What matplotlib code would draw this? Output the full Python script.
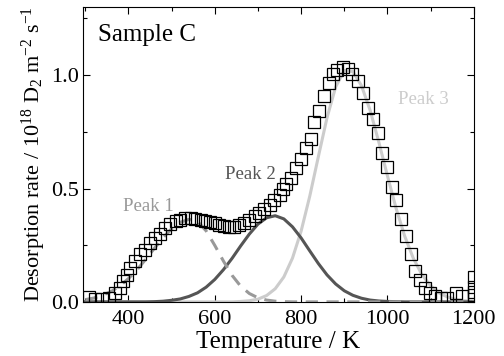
import matplotlib
matplotlib.use("Agg")
import matplotlib.pyplot as plt
from matplotlib.ticker import MultipleLocator

plt.rcParams['font.family'] = ['Liberation Serif', 'DejaVu Serif']
plt.rcParams['mathtext.fontset'] = 'custom'
plt.rcParams['mathtext.rm'] = 'Liberation Serif'
plt.rcParams['mathtext.it'] = 'Liberation Serif:italic'

# measured TDS data (open squares)
data_T = [309, 323, 338, 354, 369, 381, 388, 396, 404, 416,
          427, 439, 450, 462, 474, 485, 497, 509, 520, 532,
          544, 555, 567, 578, 590, 600, 610, 622, 633, 645,
          657, 668, 680, 692, 703, 715, 727, 738, 750, 757,
          765, 777, 788, 800, 811, 823, 831, 842, 853, 865,
          873, 884, 896, 908, 919, 931, 943, 954, 966, 977,
          987, 999, 1011, 1020, 1032, 1043, 1055, 1063, 1075, 1086,
          1098, 1110, 1125, 1137, 1158, 1172, 1200, 1200, 1200, 1200]
data_v = [0.022, 0.014, 0.012, 0.016, 0.038, 0.06, 0.09, 0.12, 0.15, 0.18,
          0.21, 0.23, 0.26, 0.28, 0.30, 0.326, 0.342, 0.356, 0.363, 0.37,
          0.37, 0.367, 0.36, 0.357, 0.352, 0.347, 0.341, 0.336, 0.33, 0.33,
          0.338, 0.35, 0.362, 0.378, 0.392, 0.41, 0.428, 0.45, 0.473, 0.50,
          0.518, 0.547, 0.59, 0.632, 0.68, 0.72, 0.795, 0.842, 0.908, 0.965,
          1.004, 1.022, 1.034, 1.027, 1.004, 0.975, 0.923, 0.857, 0.805, 0.745,
          0.658, 0.595, 0.505, 0.45, 0.367, 0.29, 0.21, 0.137, 0.095, 0.062,
          0.04, 0.025, 0.017, 0.017, 0.038, 0.028, 0.11, 0.065, 0.045, 0.03]

# fitted peak curves (read at 20 K steps)
fit_T = [300, 320, 340, 360, 380, 400, 420, 440, 460, 480,
         500, 520, 540, 560, 580, 600, 620, 640, 660, 680,
         700, 720, 740, 760, 780, 800, 820, 840, 860, 880,
         900, 920, 940, 960, 980, 1000, 1020, 1040, 1060, 1080,
         1100, 1120, 1140, 1160, 1180, 1200]
peak1 = [0.010, 0.017, 0.029, 0.046, 0.070, 0.103, 0.142, 0.188, 0.236, 0.283,
         0.323, 0.351, 0.364, 0.355, 0.313, 0.249, 0.180, 0.117, 0.069, 0.037,
         0.018, 0.008, 0.003, 0.001, 0.0, 0.0, 0.0, 0.0, 0.0, 0.0,
         0.0, 0.0, 0.0, 0.0, 0.0, 0.0, 0.0, 0.0, 0.0, 0.0,
         0.0, 0.0, 0.0, 0.0, 0.0, 0.0]
peak2 = [0.0, 0.0, 0.0, 0.0, 0.0, 0.0, 0.0, 0.0, 0.001, 0.003,
         0.007, 0.013, 0.024, 0.040, 0.065, 0.099, 0.142, 0.192, 0.247, 0.299,
         0.343, 0.371, 0.380, 0.366, 0.331, 0.282, 0.225, 0.169, 0.119, 0.079,
         0.049, 0.029, 0.016, 0.008, 0.004, 0.002, 0.001, 0.0, 0.0, 0.0,
         0.0, 0.0, 0.0, 0.0, 0.0, 0.0]
peak3 = [0.0, 0.0, 0.0, 0.0, 0.0, 0.0, 0.0, 0.0, 0.0, 0.0,
         0.0, 0.0, 0.0, 0.0, 0.0, 0.0, 0.0, 0.0, 0.002, 0.005,
         0.012, 0.028, 0.058, 0.110, 0.193, 0.312, 0.466, 0.641, 0.812, 0.948,
         1.020, 1.016, 0.953, 0.844, 0.705, 0.556, 0.413, 0.290, 0.192, 0.120,
         0.071, 0.039, 0.021, 0.010, 0.005, 0.002]

fig = plt.figure(figsize=(5.04, 3.56), dpi=100)
ax = fig.add_axes([0.165, 0.152, 0.775, 0.828])

ax.plot(fit_T, peak3, color='#cccccc', lw=2.2, solid_joinstyle='round', zorder=2)
ax.plot(fit_T, peak2, color='#555555', lw=2.2, solid_joinstyle='round', zorder=3)
ax.plot(fit_T, peak1, color='#999999', lw=2.2, dashes=(4, 2.8), zorder=3)
ax.plot(data_T, data_v, ls='none', marker='s', ms=8.3, mfc='none',
        mec='black', mew=0.9, zorder=4)

ax.text(446, 0.42, 'Peak 1', color='#999999', fontsize=13.5, ha='center', va='center')
ax.text(683, 0.562, 'Peak 2', color='#555555', fontsize=13.5, ha='center', va='center')
ax.text(1083, 0.894, 'Peak 3', color='#cccccc', fontsize=13.5, ha='center', va='center')
ax.text(330, 1.177, 'Sample C', color='black', fontsize=18, ha='left', va='center')

ax.set_xlim(295, 1200)
ax.set_ylim(0, 1.3)
ax.xaxis.set_major_locator(MultipleLocator(200))
ax.xaxis.set_minor_locator(MultipleLocator(100))
ax.yaxis.set_major_locator(MultipleLocator(0.5))
ax.yaxis.set_minor_locator(MultipleLocator(0.25))
ax.tick_params(which='both', direction='in', top=True, right=True,
               labelsize=16, width=0.8, colors='black')
ax.tick_params(which='major', length=5)
ax.tick_params(which='minor', length=3)
ax.tick_params(axis='x', pad=6)
ax.tick_params(axis='y', pad=3)
for s in ax.spines.values():
    s.set_linewidth(0.8)

ax.set_xlabel('Temperature / K', fontsize=18, labelpad=1)
ax.set_ylabel(r'Desorption rate / 10$^{18}$ D$_2$ m$^{-2}$ s$^{-1}$', fontsize=16, labelpad=2)

fig.savefig('out.png', dpi=100)
